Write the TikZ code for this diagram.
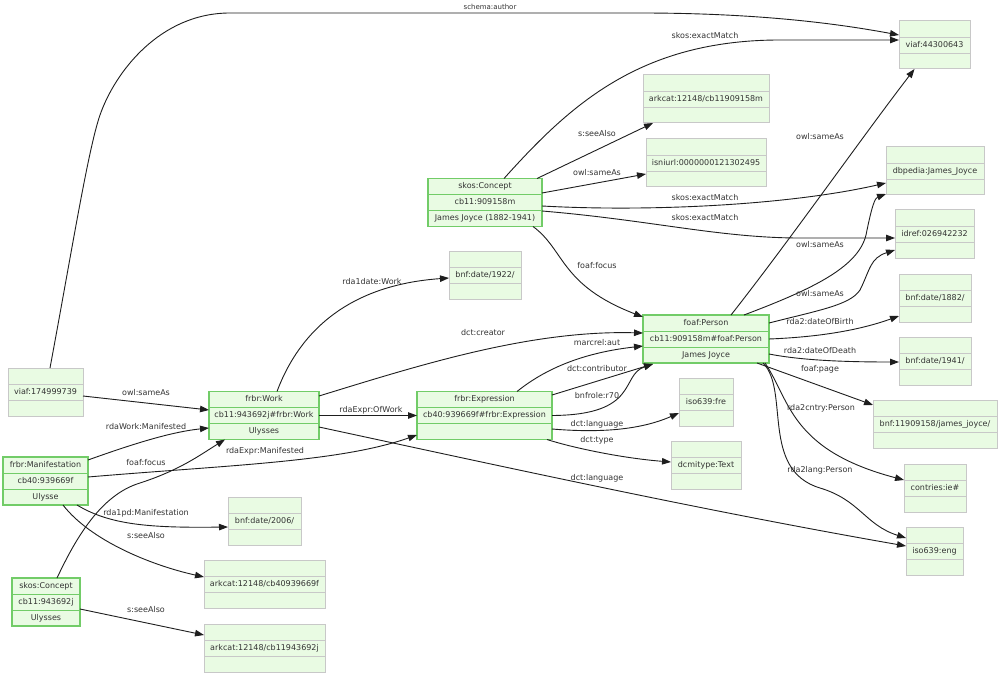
\documentclass[tikz,border=0pt]{standalone}
\usepackage{fontspec}
\setmainfont{DejaVu Sans}
\usetikzlibrary{arrows.meta}
\definecolor{boxfill}{HTML}{E9FBE3}
\definecolor{gborder}{HTML}{72CC68}
\definecolor{yborder}{HTML}{C8C8C8}
\definecolor{txtcol}{HTML}{333333}
\definecolor{edgecol}{HTML}{1E1E1E}
\newcommand{\rnode}[8]{%
  \node[#1, minimum width=#5pt] (#2) at (#3,#4) {};
  \draw[#1sep] ({#3-#5/2},{#4-8}) -- ({#3+#5/2},{#4-8});
  \draw[#1sep] ({#3-#5/2},{#4+8}) -- ({#3+#5/2},{#4+8});
  \node[txt] (#2-a) at (#3,{#4-16}) {#6};
  \node[txt] (#2-b) at (#3,#4) {#7};
  \node[txt] (#2-c) at (#3,{#4+16}) {#8};
}
\begin{document}
\begin{tikzpicture}[x=1pt,y=-1pt,
  gbox/.style={draw=gborder, fill=boxfill, line width=1.1pt, minimum height=48pt, inner sep=0pt, outer sep=0pt},
  gboxsep/.style={draw=gborder, line width=0.9pt},
  ybox/.style={draw=yborder, fill=boxfill, line width=1pt, minimum height=48pt, inner sep=0pt, outer sep=0pt},
  yboxsep/.style={draw=yborder, line width=0.9pt},
  txt/.style={font=\fontsize{8}{10}\selectfont, text=txtcol, inner sep=0pt, text height=6pt, text depth=1.5pt},
  lbl/.style={font=\fontsize{8}{10}\selectfont, text=txtcol, inner sep=0pt, text height=6pt, text depth=1.5pt},
  conn/.style={draw=edgecol, line width=0.9pt, -{Triangle[length=9pt,width=6.5pt]}}]
\useasboundingbox (0,0) rectangle (1000,676);
\fill[white] (0,0) rectangle (1000,676);

% main nodes
\rnode{gbox}{sc1}{485}{202.5}{114}{skos:Concept}{cb11:909158m}{James Joyce (1882-1941)}
\rnode{gbox}{fp}{706}{339}{126}{foaf:Person}{cb11:909158m\#foaf:Person}{James Joyce}
\rnode{gbox}{fw}{264}{415.5}{110}{frbr:Work}{cb11:943692j\#frbr:Work}{Ulysses}
\rnode{gbox}{fe}{484.5}{415.5}{135}{frbr:Expression}{cb40:939669f\#frbr:Expression}{}
\rnode{gbox}{fm}{45.5}{481}{85}{frbr:Manifestation}{cb40:939669f}{Ulysse}
\rnode{gbox}{sc2}{46}{602}{68}{skos:Concept}{cb11:943692j}{Ulysses}
% external resources
\rnode{ybox}{v1}{45.5}{392}{75}{}{viaf:174999739}{}
\rnode{ybox}{d2006}{264.5}{521}{73}{}{bnf:date/2006/}{}
\rnode{ybox}{ark40}{264.5}{584.5}{121}{}{arkcat:12148/cb40939669f}{}
\rnode{ybox}{ark11}{264.5}{648}{121}{}{arkcat:12148/cb11943692j}{}
\rnode{ybox}{d1922}{485}{275}{72}{}{bnf:date/1922/}{}
\rnode{ybox}{ark909}{706}{99}{126}{}{arkcat:12148/cb11909158m}{}
\rnode{ybox}{isni}{706}{163}{120}{}{isniurl:0000000121302495}{}
\rnode{ybox}{v2}{934.5}{45}{71}{}{viaf:44300643}{}
\rnode{ybox}{dbp}{935}{171}{98}{}{dbpedia:James\_Joyce}{}
\rnode{ybox}{idref}{934.5}{234}{79}{}{idref:026942232}{}
\rnode{ybox}{d1882}{935}{298}{72}{}{bnf:date/1882/}{}
\rnode{ybox}{d1941}{935}{361}{72}{}{bnf:date/1941/}{}
\rnode{ybox}{bnfjj}{935}{424.5}{124}{}{bnf:11909158/james\_joyce/}{}
\rnode{ybox}{ctry}{935}{488}{62}{}{contries:ie\#}{}
\rnode{ybox}{eng}{934.5}{551}{57}{}{iso639:eng}{}
\rnode{ybox}{fre}{706}{402}{54}{}{iso639:fre}{}
\rnode{ybox}{dcmi}{706}{465}{70}{}{dcmitype:Text}{}

% connectors
\draw[conn] ([xshift=4.5pt]v1.north) .. controls (72,250) and (88,150) .. (100,115) .. controls (115,72) and (160,13) .. (230,13) -- (640,13) .. controls (770,13) and (850,26) .. ([yshift=10pt]v2.west);
\draw[conn] ([xshift=19pt]sc1.north) .. controls (570,105) and (640,40) .. (780,40) -- ([yshift=5pt]v2.west);
\draw[conn] ([xshift=52pt]sc1.north) -- ([xshift=-53pt]ark909.south);
\draw[conn] ([yshift=9.5pt]sc1.east) -- ([yshift=-11pt]isni.west);
\draw[conn] ([yshift=-3.5pt]sc1.east) .. controls (650,212) and (790,205) .. ([yshift=-12pt]dbp.west);
\draw[conn] ([yshift=-8.5pt]sc1.east) .. controls (650,220) and (720,238) .. (800,238) -- ([yshift=-4pt]idref.west);
\draw[conn] ([xshift=48pt]sc1.south) .. controls (565,250) and (560,285) .. ([yshift=-2pt]fp.north west);
\draw[conn] ([xshift=25pt]fp.north) .. controls (790,240) and (860,140) .. ([xshift=-20pt]v2.south);
\draw[conn] ([xshift=38pt]fp.north) .. controls (810,290) and (858,268) .. (866,235) .. controls (872,205) and (875,198) .. ([yshift=1pt]dbp.south west);
\draw[conn] ([yshift=16pt]fp.east) .. controls (820,310) and (850,305) .. (860,290) .. controls (870,270) and (870,258) .. ([yshift=-16pt]idref.west);
\draw[conn] (fp.east) .. controls (820,337) and (860,330) .. ([yshift=-18pt]d1882.west);
\draw[conn] ([yshift=-15pt]fp.east) .. controls (800,360) and (840,362) .. ([yshift=-1pt]d1941.west);
\draw[conn] ([xshift=51pt]fp.south) -- ([yshift=-4.5pt]bnfjj.north west);
\draw[conn] ([xshift=59pt]fp.south) .. controls (790,400) and (790,450) .. ([yshift=8pt]ctry.west);
\draw[conn] ([xshift=57pt]fp.south) .. controls (790,390) and (760,470) .. (820,488) .. controls (860,500) and (865,525) .. ([yshift=13pt]eng.west);
\draw[conn] ([yshift=-11.5pt]fw.east) .. controls (500,466) and (700,510) .. ([yshift=5pt]eng.west);
\draw[conn] ([yshift=19.5pt]fw.east) .. controls (420,365) and (530,330) .. ([yshift=6pt]fp.west);
\draw[conn] ([xshift=13pt]fw.north) .. controls (300,330) and (350,285) .. ([yshift=-3pt]d1922.west);
\draw[conn] ([yshift=-4pt]v1.east) -- ([yshift=5.5pt]fw.west);
\draw[conn] ([yshift=21pt]fm.east) .. controls (130,445) and (170,432) .. ([yshift=-12.5pt]fw.west);
\draw[conn] ([xshift=11pt]sc2.north) .. controls (75,540) and (100,495) .. (140,483) .. controls (180,470) and (200,455) .. ([xshift=-39pt]fw.south);
\draw[conn] ([yshift=4pt]fm.east) .. controls (230,465) and (340,462) .. ([yshift=-19.5pt]fe.west);
\draw[conn] ([xshift=31.5pt]fm.south) .. controls (110,525) and (150,528) .. ([yshift=-6pt]d2006.west);
\draw[conn] ([xshift=17.5pt]fm.south) .. controls (90,540) and (150,565) .. ([yshift=7.5pt]ark40.west);
\draw[conn] ([yshift=-7pt]sc2.east) -- ([yshift=13pt]ark11.west);
\draw[conn] (fw.east) -- (fe.west);
\draw[conn] ([xshift=32.5pt]fe.north) .. controls (550,365) and (590,352) .. ([yshift=-7pt]fp.west);
\draw[conn] ([yshift=20.5pt]fe.east) -- ([xshift=10pt,yshift=-1pt]fp.south west);
\draw[conn] (fe.east) .. controls (640,415) and (620,375) .. ([xshift=10pt,yshift=-1pt]fp.south west);
\draw[conn] ([yshift=-13.5pt]fe.east) .. controls (600,433) and (640,430) .. ([yshift=-11pt]fre.west);
\draw[conn] ([xshift=-5pt]fe.south east) .. controls (570,447) and (620,458) .. ([yshift=3pt]dcmi.west);

% labels
\node[lbl, font=\fontsize{7}{9}\selectfont] (l1) at (490,7) {schema:author};
\node[lbl] (l2) at (705,36) {skos:exactMatch};
\node[lbl] (l3) at (597,134) {s:seeAlso};
\node[lbl] (l4) at (597,173) {owl:sameAs};
\node[lbl] (l5) at (705,198) {skos:exactMatch};
\node[lbl] (l6) at (705,218) {skos:exactMatch};
\node[lbl] (l7) at (597,266) {foaf:focus};
\node[lbl] (l8) at (820,137) {owl:sameAs};
\node[lbl] (l9) at (820,245) {owl:sameAs};
\node[lbl] (l10) at (820,294) {owl:sameAs};
\node[lbl] (l11) at (820,322) {rda2:dateOfBirth};
\node[lbl] (l12) at (820,351) {rda2:dateOfDeath};
\node[lbl] (l13) at (820,369) {foaf:page};
\node[lbl] (l14) at (821,408) {rda2cntry:Person};
\node[lbl] (l15) at (820,470) {rda2lang:Person};
\node[lbl] (l16) at (597,478) {dct:language};
\node[lbl] (l17) at (483,333) {dct:creator};
\node[lbl] (l18) at (372,282) {rda1date:Work};
\node[lbl] (l19) at (146,393) {owl:sameAs};
\node[lbl] (l20) at (146,427) {rdaWork:Manifested};
\node[lbl] (l21) at (146,463) {foaf:focus};
\node[lbl] (l22) at (265,451) {rdaExpr:Manifested};
\node[lbl] (l23) at (146,513) {rda1pd:Manifestation};
\node[lbl] (l24) at (146,536) {s:seeAlso};
\node[lbl] (l25) at (146,610) {s:seeAlso};
\node[lbl] (l26) at (371,410) {rdaExpr:OfWork};
\node[lbl] (l27) at (597,343) {marcrel:aut};
\node[lbl] (l28) at (597,369) {dct:contributor};
\node[lbl] (l29) at (597,396) {bnfrole:r70};
\node[lbl] (l30) at (597,424) {dct:language};
\node[lbl] (l31) at (597,440) {dct:type};
\end{tikzpicture}
\end{document}
